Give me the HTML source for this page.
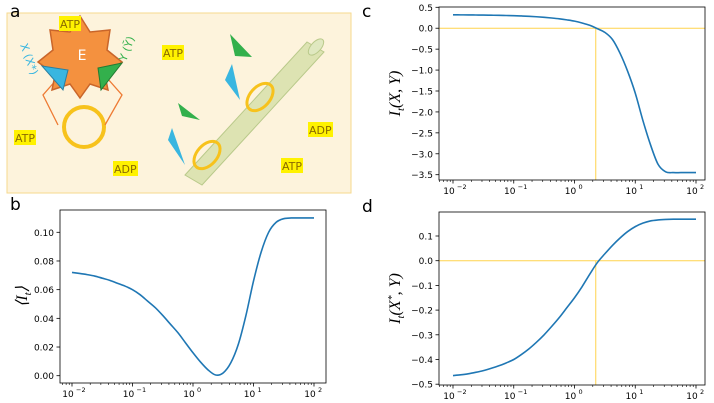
<!DOCTYPE html>
<html><head><meta charset="utf-8"><style>
body{margin:0;background:#fff;}
svg{display:block;font-family:"DejaVu Sans","Liberation Sans",sans-serif;}
</style></head><body>
<svg id="fig" width="714" height="403" viewBox="0 0 714 403" xmlns="http://www.w3.org/2000/svg">
<g>
<rect x="7" y="13" width="344" height="180" fill="#fdf3dc" stroke="#f6d88e" stroke-width="1"/>
<g>
<path d="M185,175 L307,42 L324,52 L202,185 Z" fill="#d4dfa8" fill-opacity="0.8" stroke="#b9c98a"/>
<ellipse cx="316" cy="47" rx="5" ry="10" transform="rotate(42 316 47)" fill="#e0e8c0" stroke="#b9c98a"/>
</g>
<circle cx="84" cy="127" r="20" fill="none" stroke="#f7c21c" stroke-width="4"/>
<ellipse cx="207" cy="155" rx="10" ry="16" transform="rotate(42 207 155)" fill="none" stroke="#f7c21c" stroke-width="3"/>
<ellipse cx="260" cy="97" rx="10" ry="16" transform="rotate(42 260 97)" fill="none" stroke="#f7c21c" stroke-width="3"/>
<path d="M65,70 L43,95 L58,125 M100,70 L122,95 L105,125" fill="none" stroke="#ee7a33" stroke-width="1.3"/>
<polygon points="80,16 90,32 110,30 107,50 122,62 105,75 108,90 90,84 80,98 70,84 52,90 55,75 38,62 53,50 50,30 70,32" fill="#f4913f" stroke="#c9652a" stroke-width="1.5"/>
<text x="82" y="60" font-size="14" fill="#fff" text-anchor="middle">E</text>
<polygon points="42,66 68,70 63,90" fill="#39b6e0" stroke="#2a7fa0"/>
<polygon points="98,68 122,63 101,90" fill="#33b04c" stroke="#237a32"/>
<polygon points="232,64 240,100 225,80" fill="#39b6e0"/>
<polygon points="230,34 252,57 235,56" fill="#33b04c"/>
<polygon points="172,128 185,165 168,140" fill="#39b6e0"/>
<polygon points="178,103 200,120 182,116" fill="#33b04c"/>
<text x="20" y="45" font-size="11" fill="#39b6e0" transform="rotate(70 20 45)">X (X*)</text>
<text x="126" y="62" font-size="11" fill="#33b04c" transform="rotate(-70 126 62)">Y (Ȳ)</text>
<g font-size="11" fill="#8a6a00">
<rect x="59" y="16" width="22" height="15" fill="#fff200"/><text x="60" y="28">ATP</text>
<rect x="162" y="45" width="22" height="15" fill="#fff200"/><text x="163" y="57">ATP</text>
<rect x="14" y="130" width="22" height="15" fill="#fff200"/><text x="15" y="142">ATP</text>
<rect x="113" y="161" width="25" height="15" fill="#fff200"/><text x="114" y="173">ADP</text>
<rect x="308" y="122" width="25" height="15" fill="#fff200"/><text x="309" y="134">ADP</text>
<rect x="281" y="158" width="22" height="15" fill="#fff200"/><text x="282" y="170">ATP</text>
</g>
</g>
<text x="10" y="17" font-size="17">a</text>
<text x="10" y="210" font-size="17">b</text>
<text x="362" y="17" font-size="17">c</text>
<text x="362" y="212" font-size="17">d</text>
</svg>
<script>
const logX = [-2,-1.875,-1.75,-1.625,-1.5,-1.375,-1.25,-1.125,-1,-0.875,-0.75,-0.625,-0.5,-0.375,-0.25,-0.125,0,0.125,0.25,0.375,0.5,0.625,0.75,0.875,1,1.125,1.25,1.375,1.5,1.625,1.75,1.875,2];
const seriesB = [0.072,0.0713,0.0705,0.0695,0.068,0.0665,0.0645,0.0625,0.060,0.0565,0.052,0.0475,0.042,0.036,0.030,0.023,0.016,0.0095,0.004,0.0005,0.002,0.009,0.022,0.042,0.066,0.086,0.100,0.107,0.1095,0.110,0.110,0.110,0.110];
const seriesC = [0.32,0.319,0.318,0.316,0.314,0.311,0.308,0.304,0.30,0.293,0.285,0.274,0.26,0.244,0.225,0.2,0.17,0.125,0.07,-0.01,-0.1,-0.27,-0.6,-1.03,-1.55,-2.2,-2.78,-3.25,-3.43,-3.45,-3.45,-3.45,-3.45];
const seriesD = [-0.465,-0.462,-0.458,-0.452,-0.445,-0.436,-0.426,-0.414,-0.40,-0.38,-0.357,-0.33,-0.30,-0.266,-0.23,-0.19,-0.15,-0.105,-0.055,-0.008,0.028,0.062,0.092,0.118,0.138,0.152,0.161,0.165,0.167,0.168,0.168,0.168,0.168];
const ticksB = [0,0.02,0.04,0.06,0.08,0.10];
const labelsB = ["0.00","0.02","0.04","0.06","0.08","0.10"];
const ticksC = [0.5,0,-0.5,-1,-1.5,-2,-2.5,-3,-3.5];
const labelsC = ["0.5","0.0","−0.5","−1.0","−1.5","−2.0","−2.5","−3.0","−3.5"];
const ticksD = [0.1,0,-0.1,-0.2,-0.3,-0.4,-0.5];
const labelsD = ["0.1","0.0","−0.1","−0.2","−0.3","−0.4","−0.5"];
const xDecades = [-2,-1,0,1,2];
const crossLogX = 0.35;

const NS="http://www.w3.org/2000/svg";
const svg=document.getElementById('fig');
function mk(tag,attrs,parent){const e=document.createElementNS(NS,tag);for(const k in attrs)e.setAttribute(k,attrs[k]);(parent||svg).appendChild(e);return e;}

function chart(cfg){
  const g=mk('g',{});
  
  
  const X=v=>cfg.x0+(v-(-2))/4*(cfg.x1-cfg.x0);
  const Y=v=>cfg.yA+(v-cfg.vA)/(cfg.vB-cfg.vA)*(cfg.yB-cfg.yA);
  if(cfg.ref){
    const h=mk('line',{x1:cfg.L,x2:cfg.R,y1:Y(0),y2:Y(0),stroke:'#ffd34d','stroke-width':1},g);
    
    
    const v=mk('line',{x1:X(crossLogX),x2:X(crossLogX),y1:Y(0),y2:cfg.B,stroke:'#ffd34d','stroke-width':1},g);
    
    
  }
  const fr=mk('rect',{x:cfg.L,y:cfg.T,width:cfg.R-cfg.L,height:cfg.B-cfg.T,fill:'none',stroke:'#000','stroke-width':0.8},g);
  
  
  cfg.ticks.forEach((t,i)=>{
    mk('line',{x1:cfg.L-3.5,x2:cfg.L,y1:Y(t),y2:Y(t),stroke:'#000','stroke-width':0.8},g);
    const tx=mk('text',{x:cfg.L-6,y:Y(t)+3.5,'font-size':9,'text-anchor':'end'},g);
    tx.textContent=cfg.labels[i];
    
    
  });
  xDecades.forEach(d=>{
    mk('line',{x1:X(d),x2:X(d),y1:cfg.B,y2:cfg.B+3.5,stroke:'#000','stroke-width':0.8},g);
    const tx=mk('text',{x:X(d)-4,y:cfg.B+14,'font-size':9,'text-anchor':'middle'},g);
    tx.textContent='10';
    
    
    const sp=mk('text',{x:X(d)+4,y:cfg.B+9,'font-size':6.5,'text-anchor':'start'},g);
    sp.textContent=d<0?'−'+(-d):''+d;
    if(d<2){for(let m=2;m<10;m++){const xm=X(d+Math.log10(m));mk('line',{x1:xm,x2:xm,y1:cfg.B,y2:cfg.B+2,stroke:'#000','stroke-width':0.6},g);}}
  });
  for(let m=2;m<10;m++){const xm=X(-3+Math.log10(m));if(xm>cfg.L)mk('line',{x1:xm,x2:xm,y1:cfg.B,y2:cfg.B+2,stroke:'#000','stroke-width':0.6},g);}
  const pts=logX.map((lx,i)=>[X(lx),Y(cfg.data[i])]);
  let d='M'+pts[0][0]+','+pts[0][1];
  for(let i=1;i<pts.length;i++){
    const p0=pts[Math.max(0,i-2)],p1=pts[i-1],p2=pts[i],p3=pts[Math.min(pts.length-1,i+1)];
    const c1=[p1[0]+(p2[0]-p0[0])/6,p1[1]+(p2[1]-p0[1])/6],c2=[p2[0]-(p3[0]-p1[0])/6,p2[1]-(p3[1]-p1[1])/6];
    d+=' C'+c1+' '+c2+' '+p2;
  }
  const ln=mk('path',{d:d,fill:'none',stroke:'#1f77b4','stroke-width':1.6,'stroke-linejoin':'round'},g);
  
  
  const yl=mk('text',{x:cfg.ylx,y:(cfg.T+cfg.B)/2,'font-size':16,'font-family':'Liberation Serif,serif','font-style':'italic','text-anchor':'middle',transform:'rotate(-90 '+cfg.ylx+' '+(cfg.T+cfg.B)/2+')'},g);
  yl.innerHTML=cfg.ylabel;
  
  
}
chart({name:'chart-b',L:60,R:326,T:210,B:383,x0:72,x1:314,yA:375.7,vA:0,yB:232.3,vB:0.10,ticks:ticksB,labels:labelsB,data:seriesB,ref:false,ylx:27,ylabel:'⟨I<tspan font-size="11" dy="4">t</tspan><tspan dy="-4">⟩</tspan>'});
chart({name:'chart-c',L:439,R:705,T:7,B:180,x0:453,x1:696,yA:7.3,vA:0.5,yB:174.7,vB:-3.5,ticks:ticksC,labels:labelsC,data:seriesC,ref:true,ylx:400,ylabel:'I<tspan font-size="11" dy="4">t</tspan><tspan dy="-4">(X, Y)</tspan>'});
chart({name:'chart-d',L:439,R:705,T:212,B:385,x0:453,x1:696,yA:260.7,vA:0,yB:236,vB:0.1,ticks:ticksD,labels:labelsD,data:seriesD,ref:true,ylx:400,ylabel:'I<tspan font-size="11" dy="4">t</tspan><tspan dy="-4">(X</tspan><tspan font-size="10" dy="-5">*</tspan><tspan dy="5">, Y)</tspan>'});
</script>
</body></html>
